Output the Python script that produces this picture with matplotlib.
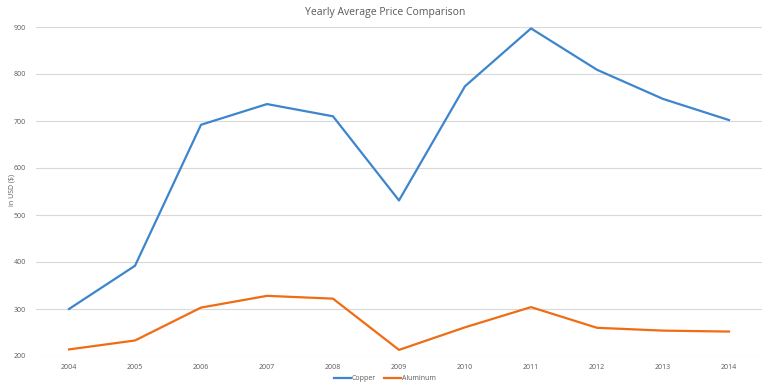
import matplotlib
matplotlib.use("Agg")
import matplotlib.pyplot as plt

years = ["2004", "2005", "2006", "2007", "2008", "2009",
         "2010", "2011", "2012", "2013", "2014"]
copper = [300, 392, 692, 736, 710, 531, 774, 897, 809, 747, 702]
aluminum = [214, 233, 303, 328, 322, 213, 261, 304, 260, 254, 252]

plt.rcParams['font.family'] = ['Open Sans', 'DejaVu Sans']

fig = plt.figure(figsize=(7.7, 3.9), dpi=100)
ax = fig.add_axes([36 / 770, 34 / 390, 726 / 770, 329 / 390])

x = range(len(years))
ax.plot(x, copper, color='#3d85cc', linewidth=1.6, label='Copper')
ax.plot(x, aluminum, color='#f06c14', linewidth=1.6, label='Aluminum')

ax.set_xlim(-0.5, len(years) - 0.5)
ax.set_ylim(200, 900)
ax.set_yticks(range(200, 901, 100))
ax.set_xticks(list(x))
ax.set_xticklabels(years)

ax.grid(axis='y', color='#d9d9d9', linewidth=0.8)
ax.set_axisbelow(True)
for s in ax.spines.values():
    s.set_visible(False)
ax.tick_params(length=0, labelsize=5, labelcolor='#595959', pad=6)
ax.tick_params(axis='y', pad=7)

fig.text(12 / 770, 1 - 190 / 390, "in USD ($)", rotation=90,
         ha='center', va='center', fontsize=5, color='#595959')
fig.text(0.5, 1 - 12 / 390, "Yearly Average Price Comparison",
         ha='center', va='center', fontsize=7.5, color='#595959')

fig.legend(loc='center', bbox_to_anchor=(0.5, 11 / 390), ncol=2,
           frameon=False, fontsize=5, labelcolor='#595959',
           handlelength=2.4, handletextpad=0.1, columnspacing=1.2)

fig.savefig("out.png", dpi=100)
